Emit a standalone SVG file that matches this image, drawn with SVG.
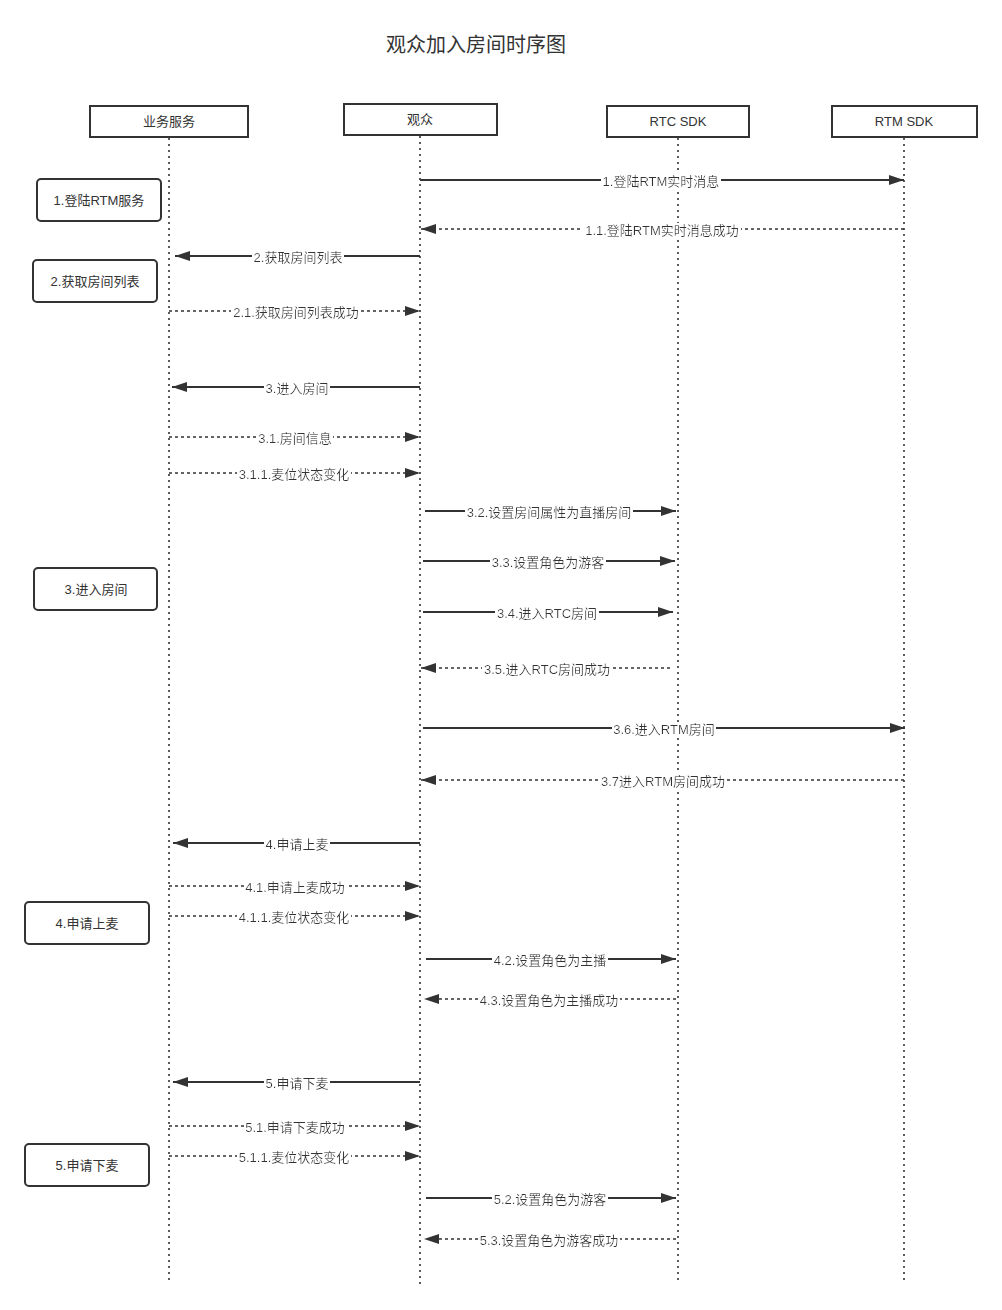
<svg xmlns="http://www.w3.org/2000/svg" width="1002" height="1310" viewBox="0 0 1002 1310">
<style>
text{font-family:"Liberation Sans","Noto Sans CJK SC",sans-serif;fill:#333;}
.t{font-size:20px;}
.h{font-size:13px;text-anchor:middle;}
.box{fill:#fff;stroke:#333;stroke-width:2;}
.note{fill:#fff;stroke:#333;stroke-width:2;}
.life{stroke:#333;stroke-width:1.6;stroke-dasharray:2 4;fill:none;}
.sol{stroke:#333;stroke-width:2;fill:none;marker-end:url(#ah);}
.das{stroke:#333;stroke-width:1.6;stroke-dasharray:3 3;fill:none;marker-end:url(#ah);}
.lb{font-size:13px;text-anchor:middle;filter:url(#bg);}
</style>
<defs>
<marker id="ah" markerUnits="userSpaceOnUse" markerWidth="16" markerHeight="12" refX="15" refY="5" orient="auto">
<path d="M0,0 L15,5 L0,10 z" fill="#333"/>
</marker>
<filter id="bg" x="-0.01" y="0" width="1.02" height="1">
<feFlood flood-color="#fff" result="f"/>
<feMerge><feMergeNode in="f"/><feMergeNode in="SourceGraphic"/></feMerge>
</filter>
</defs>
<rect width="1002" height="1310" fill="#fff"/>
<text class="t" x="476" y="52" text-anchor="middle">观众加入房间时序图</text>

<g id="lifelines">
<line class="life" x1="169" y1="138" x2="169" y2="1282"/>
<line class="life" x1="420" y1="136" x2="420" y2="1284"/>
<line class="life" x1="678" y1="138" x2="678" y2="1282"/>
<line class="life" x1="904" y1="138" x2="904" y2="1282"/>
</g>

<g id="p-biz"><rect class="box" x="90" y="106" width="158" height="31"/><text class="h" x="169" y="126">业务服务</text></g>
<g id="p-aud"><rect class="box" x="344" y="104" width="153" height="31"/><text class="h" x="420" y="124">观众</text></g>
<g id="p-rtc"><rect class="box" x="607" y="106" width="142" height="31"/><text class="h" x="678" y="126">RTC SDK</text></g>
<g id="p-rtm"><rect class="box" x="832" y="106" width="145" height="31"/><text class="h" x="904" y="126">RTM SDK</text></g>

<g id="note1"><rect class="note" x="37" y="179" width="124" height="42" rx="4"/><text class="h" x="99" y="205">1.登陆RTM服务</text></g>
<g id="note2"><rect class="note" x="33" y="260" width="124" height="42" rx="4"/><text class="h" x="95" y="286">2.获取房间列表</text></g>
<g id="note3"><rect class="note" x="34" y="568" width="123" height="42" rx="4"/><text class="h" x="96" y="594">3.进入房间</text></g>
<g id="note4"><rect class="note" x="25" y="902" width="124" height="42" rx="4"/><text class="h" x="87" y="928">4.申请上麦</text></g>
<g id="note5"><rect class="note" x="25" y="1144" width="124" height="42" rx="4"/><text class="h" x="87" y="1170">5.申请下麦</text></g>

<g id="connectors">
<line class="sol" x1="420" y1="180" x2="904" y2="180"/><text class="lb" x="661" y="186">1.登陆RTM实时消息</text>
<line class="das" x1="904" y1="229" x2="421" y2="229"/><text class="lb" x="662" y="235">1.1.登陆RTM实时消息成功</text>
<line class="sol" x1="420" y1="256" x2="175" y2="256"/><text class="lb" x="298" y="262">2.获取房间列表</text>
<line class="das" x1="169" y1="311" x2="420" y2="311"/><text class="lb" x="296" y="317">2.1.获取房间列表成功</text>
<line class="sol" x1="420" y1="387" x2="172" y2="387"/><text class="lb" x="297" y="393">3.进入房间</text>
<line class="das" x1="169" y1="437" x2="420" y2="437"/><text class="lb" x="295" y="443">3.1.房间信息</text>
<line class="das" x1="169" y1="473" x2="420" y2="473"/><text class="lb" x="294" y="479">3.1.1.麦位状态变化</text>
<line class="sol" x1="425" y1="511" x2="676" y2="511"/><text class="lb" x="549" y="517">3.2.设置房间属性为直播房间</text>
<line class="sol" x1="423" y1="561" x2="675" y2="561"/><text class="lb" x="548" y="567">3.3.设置角色为游客</text>
<line class="sol" x1="423" y1="612" x2="673" y2="612"/><text class="lb" x="547" y="618">3.4.进入RTC房间</text>
<line class="das" x1="670" y1="668" x2="421" y2="668"/><text class="lb" x="547" y="674">3.5.进入RTC房间成功</text>
<line class="sol" x1="423" y1="728" x2="905" y2="728"/><text class="lb" x="664" y="734">3.6.进入RTM房间</text>
<line class="das" x1="904" y1="780" x2="421" y2="780"/><text class="lb" x="663" y="786">3.7进入RTM房间成功</text>
<line class="sol" x1="420" y1="843" x2="173" y2="843"/><text class="lb" x="297" y="849">4.申请上麦</text>
<line class="das" x1="169" y1="886" x2="420" y2="886"/><text class="lb" x="295" y="892">4.1.申请上麦成功</text>
<line class="das" x1="169" y1="916" x2="420" y2="916"/><text class="lb" x="294" y="922">4.1.1.麦位状态变化</text>
<line class="sol" x1="426" y1="959" x2="676" y2="959"/><text class="lb" x="550" y="965">4.2.设置角色为主播</text>
<line class="das" x1="676" y1="999" x2="424" y2="999"/><text class="lb" x="549" y="1005">4.3.设置角色为主播成功</text>
<line class="sol" x1="420" y1="1082" x2="173" y2="1082"/><text class="lb" x="297" y="1088">5.申请下麦</text>
<line class="das" x1="169" y1="1126" x2="420" y2="1126"/><text class="lb" x="295" y="1132">5.1.申请下麦成功</text>
<line class="das" x1="169" y1="1156" x2="420" y2="1156"/><text class="lb" x="294" y="1162">5.1.1.麦位状态变化</text>
<line class="sol" x1="426" y1="1198" x2="676" y2="1198"/><text class="lb" x="550" y="1204">5.2.设置角色为游客</text>
<line class="das" x1="676" y1="1239" x2="424" y2="1239"/><text class="lb" x="549" y="1245">5.3.设置角色为游客成功</text>
</g>
</svg>
